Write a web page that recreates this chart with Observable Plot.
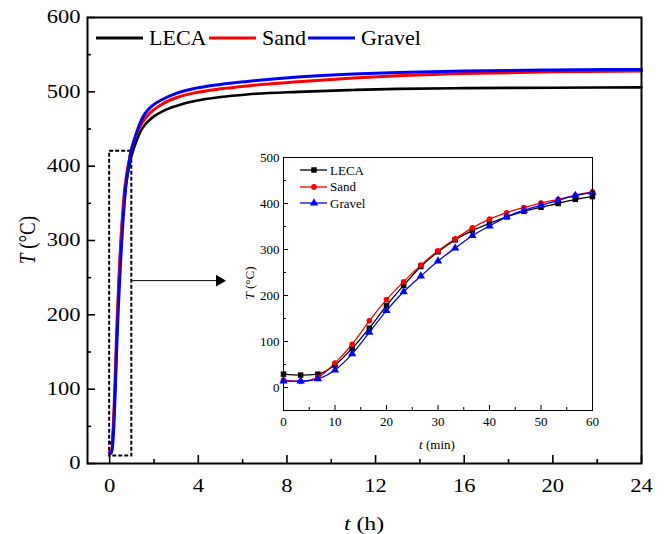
<!DOCTYPE html>
<html><head><meta charset="utf-8">
<script src="https://cdn.jsdelivr.net/npm/d3@7"></script>
<script src="https://cdn.jsdelivr.net/npm/@observablehq/plot@0.6"></script>
<style>
body{margin:0;background:#fff;}
#wrap{position:relative;width:664px;height:534px;font-family:"Liberation Serif","Times New Roman",serif;color:#000;overflow:hidden;}
#wrap svg.plot{position:absolute;overflow:visible;}
.lab{position:absolute;white-space:nowrap;line-height:1;}
</style></head><body><div id="wrap"></div>
<script>
// ---- data ----
const seriesNames = ["LECA", "Sand", "Gravel"];
const seriesColors = ["#000000", "#ff0000", "#0000ff"];
const insetSymbols = ["square", "circle", "triangle"];

// inset: first hour, in minutes
const insetMinutes = [0, 3.33, 6.67, 10, 13.33, 16.67, 20, 23.33, 26.67, 30, 33.33, 36.67, 40, 43.33, 46.67, 50, 53.33, 56.67, 60];
const insetLECA   = [29, 27, 29, 49, 85, 129, 178, 222, 263, 295, 321, 341, 357, 371, 383, 392, 400, 409, 415];
const insetSand   = [16, 13, 22, 53, 94, 145, 191, 230, 266, 297, 323, 347, 366, 380, 391, 401, 409, 418, 425];
const insetGravel = [14, 14, 19, 38, 73, 120, 167, 208, 242, 275, 303, 330, 351, 371, 385, 396, 407, 417, 424];

// main: after the first hour, in hours
const mainHours  = [1.2, 1.4, 1.6, 1.8, 2, 2.4, 3, 3.9, 5, 6.2, 8.5, 11, 13, 16, 20, 24];
const mainLECA   = [433, 447, 456, 462, 467, 474, 481, 488, 493, 496.5, 500, 502.5, 504, 505, 505.5, 506];
const mainSand   = [442, 455, 464, 471, 476, 484, 492, 499, 504, 508, 513.5, 518.5, 521.5, 524.5, 527, 528];
const mainGravel = [444, 460, 471, 478, 483, 490, 498, 505, 510, 514, 520, 524, 526, 528, 529.5, 530];

// ticks
const mainXTicks = [0, 4, 8, 12, 16, 20, 24];
const mainXMinor = [2, 6, 10, 14, 18, 22];
const mainYTicks = [0, 100, 200, 300, 400, 500, 600];
const mainYMinor = [50, 150, 250, 350, 450, 550];
const insetXTicks = [0, 10, 20, 30, 40, 50, 60];
const insetXMinor = [5, 15, 25, 35, 45, 55];
const insetYTicks = [0, 100, 200, 300, 400, 500];
const insetYMinor = [50, 150, 250, 350, 450];

// zoom box annotation (hours, °C) and arrow
const zoomBox = [{t1: 0, t2: 1, T1: 10, T2: 420}];
const arrowFrom = {t: 1, T: 246};
const arrowTo = {t: 4.95, T: 246};

// ---- build tables ----
const insetSeries = [insetLECA, insetSand, insetGravel];
const mainSeries = [mainLECA, mainSand, mainGravel];
const insetData = [];
const mainData = [];
seriesNames.forEach((name, s) => {
  insetMinutes.forEach((m, i) => {
    insetData.push({series: name, t: m, T: insetSeries[s][i]});
    mainData.push({series: name, t: m / 60, T: insetSeries[s][i]});
  });
  mainHours.forEach((h, i) => mainData.push({series: name, t: h, T: mainSeries[s][i]}));
});

const colorScale = {domain: seriesNames, range: seriesColors};
const wrap = document.getElementById("wrap");

// ---- main plot ----
const main = Plot.plot({
  width: 664, height: 534,
  marginLeft: 87, marginRight: 23, marginTop: 17, marginBottom: 71,
  x: {domain: [-1, 24]},
  y: {domain: [0, 600]},
  color: colorScale,
  style: {fontFamily: "Liberation Serif", fontSize: "18px", color: "#000", background: "transparent", overflow: "visible"},
  marks: [
    Plot.rect(zoomBox, {x1: "t1", x2: "t2", y1: "T1", y2: "T2", stroke: "#000", strokeWidth: 2, strokeDasharray: "4,2", fill: "none"}),
    Plot.link([arrowFrom], {x1: () => arrowFrom.t, y1: () => arrowFrom.T, x2: () => arrowTo.t, y2: () => arrowTo.T, stroke: "#000", strokeWidth: 1}),
    Plot.dot([arrowTo], {x: "t", y: "T", symbol: "triangle", r: 4.3, rotate: 90, fill: "#000", stroke: "none"}),
    ...seriesNames.map((name) => Plot.line(mainData.filter(d => d.series === name), {
      x: "t", y: "T", stroke: "series", strokeWidth: name === "LECA" ? 2.6 : 3, curve: "monotone-x"
    })),
    Plot.axisX(mainXTicks, {tickSize: 0, tickPadding: 16, label: null, fontSize: 18}),
    Plot.axisX(mainXTicks, {tickSize: -8, text: null, label: null, strokeWidth: 1.6}),
    Plot.axisX(mainXMinor, {tickSize: -4, text: null, label: null, strokeWidth: 1.6}),
    Plot.axisY(mainYTicks, {tickSize: 0, tickPadding: 7, label: null, fontSize: 18}),
    Plot.axisY(mainYTicks, {tickSize: -8, text: null, label: null, strokeWidth: 1.6}),
    Plot.axisY(mainYMinor, {tickSize: -4, text: null, label: null, strokeWidth: 1.6}),
    Plot.frame({stroke: "#000", strokeWidth: 2})
  ]
});
main.classList.add("plot");
main.style.left = "0px"; main.style.top = "0px";
wrap.appendChild(main);

// ---- inset plot ----
const inset = Plot.plot({
  width: 370, height: 320,
  marginLeft: 53, marginRight: 8, marginTop: 17, marginBottom: 50,
  x: {domain: [0, 60]},
  y: {domain: [-50, 500]},
  color: colorScale,
  symbol: {domain: seriesNames, range: insetSymbols},
  style: {fontFamily: "Liberation Serif", fontSize: "13px", color: "#000", background: "transparent", overflow: "visible"},
  marks: [
    ...seriesNames.map((name) => Plot.line(insetData.filter(d => d.series === name), {
      x: "t", y: "T", stroke: "series", strokeWidth: 1.3, curve: "monotone-x"
    })),
    ...seriesNames.map((name, s) => Plot.dot(insetData.filter(d => d.series === name), {
      x: "t", y: "T", fill: "series", symbol: "series", r: s === 1 ? 2.8 : 3.1, stroke: "none"
    })),
    Plot.axisX(insetXTicks, {tickSize: 0, tickPadding: 6, label: null, fontSize: 13}),
    Plot.axisX(insetXTicks, {tickSize: -5, text: null, label: null}),
    Plot.axisX(insetXMinor, {tickSize: -3, text: null, label: null}),
    Plot.axisY(insetYTicks, {tickSize: 0, tickPadding: 4, label: null, fontSize: 13}),
    Plot.axisY(insetYTicks, {tickSize: -5, text: null, label: null}),
    Plot.axisY(insetYMinor, {tickSize: -3, text: null, label: null}),
    Plot.frame({stroke: "#000", strokeWidth: 1})
  ]
});
inset.classList.add("plot");
inset.style.left = "230px"; inset.style.top = "140px";
wrap.appendChild(inset);

// widen main tick labels horizontally (reference text is stretched)
main.querySelectorAll('g[aria-label$="tick label"] text').forEach(t => {
  const L = t.getComputedTextLength();
  t.setAttribute("textLength", (L * 1.25).toFixed(1));
  t.setAttribute("lengthAdjust", "spacingAndGlyphs");
});

// ---- axis titles ----
function addLabel(html, css) {
  const d = document.createElement("div");
  d.className = "lab";
  d.innerHTML = html;
  Object.assign(d.style, css);
  wrap.appendChild(d);
  return d;
}
addLabel("<i>t</i> (h)", {left: "364px", top: "514px", fontSize: "19px", transform: "translateX(-50%) scaleX(1.25)"});
addLabel("<i>T</i> (°C)", {left: "27px", top: "240px", fontSize: "19px", transform: "translate(-50%,-50%) rotate(-90deg) scaleY(1.25)"});
addLabel("<i>t</i> (min)", {left: "437px", top: "438px", fontSize: "13px", transform: "translateX(-50%)"});
addLabel("<i>T</i> (°C)", {left: "249px", top: "283px", fontSize: "13px", transform: "translate(-50%,-50%) rotate(-90deg)"});

// ---- main legend (single row) ----
const mainLegendX = [96, 209, 308];
seriesNames.forEach((name, s) => {
  const d = document.createElement("div");
  d.className = "lab";
  Object.assign(d.style, {left: mainLegendX[s] + "px", top: "27px", fontSize: "22px", display: "flex", alignItems: "center"});
  d.innerHTML = `<svg width="47" height="22" style="display:block"><line x1="0" x2="47" y1="11" y2="11" stroke="${seriesColors[s]}" stroke-width="3"/></svg><span style="margin-left:6px">${name}</span>`;
  wrap.appendChild(d);
});

// ---- inset legend ----
const symPaths = seriesNames.map((n, s) => {
  const sym = [d3.symbolSquare, d3.symbolCircle, d3.symbolTriangle][s];
  return d3.symbol(sym, s === 1 ? 26 : 30)();
});
seriesNames.forEach((name, s) => {
  const d = document.createElement("div");
  d.className = "lab";
  Object.assign(d.style, {left: "300px", top: (162 + s * 16.6) + "px", fontSize: "13px", display: "flex", alignItems: "center"});
  d.innerHTML = `<svg width="27" height="16" style="display:block;overflow:visible"><line x1="0" x2="27" y1="8" y2="8" stroke="${seriesColors[s]}" stroke-width="1.3"/><path transform="translate(14,8)" d="${symPaths[s]}" fill="${seriesColors[s]}"/></svg><span style="margin-left:3px">${name}</span>`;
  wrap.appendChild(d);
});
</script>
</body></html>
